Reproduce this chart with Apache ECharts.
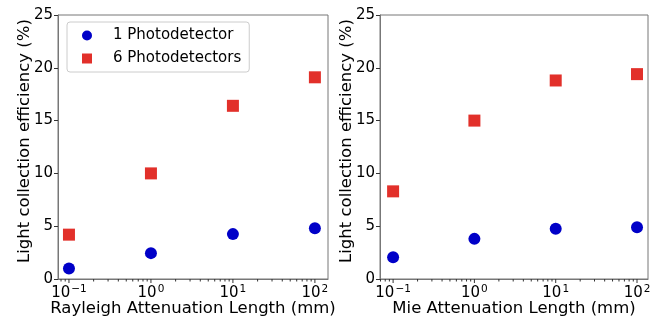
<!DOCTYPE html>
<html>
<head>
<meta charset="utf-8">
<script src="https://cdn.jsdelivr.net/npm/echarts@6/dist/echarts.min.js"></script>
<style>
  html, body { margin: 0; padding: 0; background: #fff; }
  #chart { width: 666px; height: 325px; }
</style>
</head>
<body>
<div id="chart"></div>
<script>
// attenuation lengths (mm)
const lengths = [0.1, 1, 10, 100];
// left panel: Rayleigh
const rayleigh1 = [1.0, 2.45, 4.25, 4.8];
const rayleigh6 = [4.2, 10.0, 16.4, 19.1];
// right panel: Mie
const mie1 = [2.05, 3.8, 4.75, 4.9];
const mie6 = [8.3, 15.0, 18.8, 19.4];
// log axis ticks
const majorTicks = [0.1, 1, 10, 100];
const minorTicks = [0.07, 0.08, 0.09, 0.2, 0.3, 0.4, 0.5, 0.6, 0.7, 0.8, 0.9,
  2, 3, 4, 5, 6, 7, 8, 9, 20, 30, 40, 50, 60, 70, 80, 90];
const expLabels = { '-1': '−1', '0': '0', '1': '1', '2': '2' };

const blue = '#0000c8';
const red = '#e2302a';
const spine = '#777';
const font = 'DejaVu Sans';

const chart = echarts.init(document.getElementById('chart'));

function xAxisCfg(idx, name, min, max) {
  return {
    type: 'log',
    gridIndex: idx,
    min: min,
    max: max,
    name: name,
    nameLocation: 'middle',
    nameGap: 21,
    nameMoveOverlap: false,
    nameTextStyle: { fontFamily: font, fontSize: 16.5, color: '#000' },
    axisLine: { show: true, lineStyle: { color: spine } },
    axisTick: { show: false },
    splitLine: { show: false },
    axisLabel: {
      fontFamily: font, fontSize: 15, color: '#000', margin: 4,
      formatter: function (v) {
        const e = Math.round(Math.log10(v));
        if (Math.abs(Math.log10(v) - e) > 1e-6) return '';
        return '{b|10}{s|' + expLabels[String(e)] + '}';
      },
      rich: {
        b: { fontFamily: font, fontSize: 15, color: '#000', lineHeight: 18, verticalAlign: 'bottom' },
        s: { fontFamily: font, fontSize: 10.5, color: '#000', lineHeight: 11, verticalAlign: 'top', padding: [1, 0, 0, 1] }
      }
    }
  };
}

function yAxisCfg(idx) {
  return {
    type: 'value',
    gridIndex: idx,
    min: 0,
    max: 25,
    interval: 5,
    name: 'Light collection efficiency (%)',
    nameLocation: 'middle',
    nameGap: 25,
    nameMoveOverlap: false,
    nameTextStyle: { fontFamily: font, fontSize: 16.5, color: '#000', padding: [0, 0, 0, 12] },
    axisLine: { show: true, lineStyle: { color: spine } },
    axisTick: { show: true, length: 4, lineStyle: { color: '#333' } },
    splitLine: { show: false },
    axisLabel: { fontFamily: font, fontSize: 15, color: '#000', margin: 5 }
  };
}

function tickData() {
  const d = [];
  majorTicks.forEach(function (v) { d.push([v, 0, 4]); });
  minorTicks.forEach(function (v) { d.push([v, 0, 2.5]); });
  return d;
}

function tickSeries(idx, lo, hi) {
  return {
    type: 'custom',
    xAxisIndex: idx,
    yAxisIndex: idx,
    silent: true,
    clip: false,
    data: tickData().filter(function (d) { return d[0] >= lo && d[0] <= hi; }),
    encode: { x: 0, y: 1 },
    renderItem: function (params, api) {
      const p = api.coord([api.value(0), 0]);
      const len = api.value(2);
      return {
        type: 'line',
        shape: { x1: p[0], y1: p[1], x2: p[0], y2: p[1] + len },
        style: { stroke: '#333', lineWidth: 1 }
      };
    }
  };
}

function scatter(name, idx, ys, symbol, color) {
  return {
    name: name,
    type: 'scatter',
    xAxisIndex: idx,
    yAxisIndex: idx,
    symbol: symbol,
    symbolSize: 12,
    itemStyle: { color: color, opacity: 1 },
    data: lengths.map(function (x, i) { return [x, ys[i]]; })
  };
}

const gridBase = { top: 15, bottom: 46, show: true, borderColor: spine, borderWidth: 1, containLabel: false, outerBoundsMode: 'none' };

chart.setOption({
  animation: false,
  backgroundColor: '#fff',
  grid: [
    Object.assign({ left: 58, right: 338 }, gridBase),
    Object.assign({ left: 380, right: 18 }, gridBase)
  ],
  legend: {
    data: ['1 Photodetector', '6 Photodetectors'],
    orient: 'vertical',
    left: 67,
    top: 22,
    itemWidth: 10,
    itemHeight: 10,
    itemGap: 8,
    padding: [6, 8, 6, 15],
    borderColor: '#ccc',
    borderWidth: 1,
    borderRadius: 3,
    backgroundColor: '#fff',
    formatter: '{t|{name}}',
    textStyle: {
      fontFamily: font, fontSize: 15, color: '#000',
      rich: { t: { fontFamily: font, fontSize: 15, color: '#000', lineHeight: 17, padding: [0, 0, 0, 16] } }
    }
  },
  xAxis: [
    xAxisCfg(0, 'Rayleigh Attenuation Length (mm)', 0.0735, 144.5),
    xAxisCfg(1, 'Mie Attenuation Length (mm)', 0.069, 136.5)
  ],
  yAxis: [yAxisCfg(0), yAxisCfg(1)],
  series: [
    scatter('1 Photodetector', 0, rayleigh1, 'circle', blue),
    scatter('6 Photodetectors', 0, rayleigh6, 'rect', red),
    scatter('1 Photodetector', 1, mie1, 'circle', blue),
    scatter('6 Photodetectors', 1, mie6, 'rect', red),
    tickSeries(0, 0.0735, 144.5),
    tickSeries(1, 0.069, 136.5)
  ]
});
</script>
</body>
</html>
